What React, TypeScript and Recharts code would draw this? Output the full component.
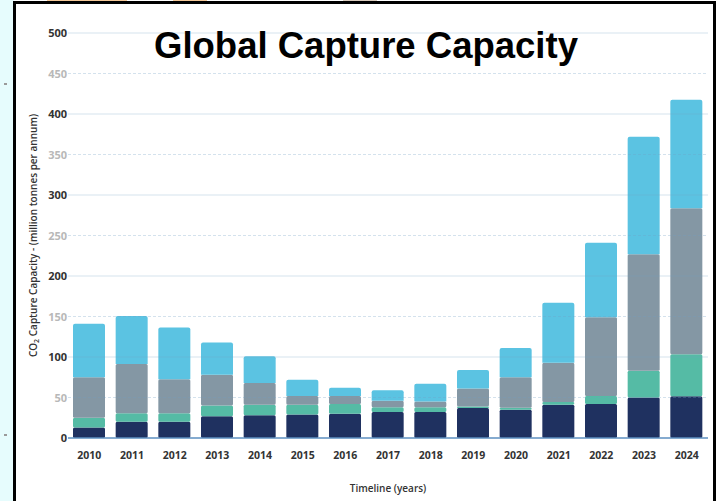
import React from 'react';
import { BarChart, Bar, XAxis, YAxis, ReferenceLine, Label } from 'recharts';

// ----------------------------------------------------------------------------
// Data (million tonnes per annum)
// ----------------------------------------------------------------------------

const YEARS = [
  '2010', '2011', '2012', '2013', '2014', '2015', '2016', '2017',
  '2018', '2019', '2020', '2021', '2022', '2023', '2024'
];

const OPERATIONAL = [13, 20, 20, 27, 28, 29, 30, 32, 32, 37, 35, 41, 42, 50, 51.5];
const IN_CONSTRUCTION = [12, 10.5, 10.5, 13, 13, 12, 12, 6, 6, 2, 2.5, 3.5, 10, 33, 52];
const ADVANCED_DEV = [50, 61, 42, 38, 27, 11, 10, 8, 7, 22, 37.5, 48.5, 97, 144, 180];
const EARLY_DEV = [66, 59, 64, 40, 33, 20, 10, 13, 22, 23, 36, 74, 92, 145, 134];

const Y_TICKS = [0, 50, 100, 150, 200, 250, 300, 350, 400, 450, 500];
const SOLID_LINES = [100, 200, 300, 400, 500];
const DASHED_LINES = [50, 150, 250, 350, 450];

const COLORS = {
  operational: '#1f3160',
  construction: '#55bba5',
  advanced: '#8497a4',
  early: '#5bc3e2',
  axis: '#5d8fc0',
  grid: '#6f9fc4'
};

const TICK_FONT = '"Open Sans", "Liberation Sans", sans-serif';

const chartData = YEARS.map((year, i) => ({
  year,
  operational: OPERATIONAL[i],
  construction: IN_CONSTRUCTION[i],
  advanced: ADVANCED_DEV[i],
  early: EARLY_DEV[i]
}));

// ----------------------------------------------------------------------------
// Custom ticks / labels
// ----------------------------------------------------------------------------

const YTick = ({ x, y, payload }: any) => {
  const major = payload.value % 100 === 0;
  return (
    <text
      x={x}
      y={y}
      dy={4}
      textAnchor="end"
      fontSize={11}
      fontWeight={700}
      fontFamily={TICK_FONT}
      fill={major ? '#333333' : '#b8b8b8'}
    >
      {payload.value}
    </text>
  );
};

const YAxisTitle = ({ viewBox }: any) => {
  const cx = (viewBox?.x ?? 18) + 15;
  const cy = (viewBox?.y ?? 33) + (viewBox?.height ?? 404) / 2;
  return (
    <text
      x={cx}
      y={cy}
      transform={`rotate(-90, ${cx}, ${cy})`}
      textAnchor="middle"
      dominantBaseline="central"
      fontSize={10}
      fontWeight={600}
      fontFamily={TICK_FONT}
      fill="#333333"
    >
      CO
      <tspan dy={3} fontSize={7}>2</tspan>
      <tspan dy={-3}> Capture Capacity - (million tonnes per annum)</tspan>
    </text>
  );
};

// ----------------------------------------------------------------------------
// Component
// ----------------------------------------------------------------------------

export default function App() {
  return (
    <div
      style={{
        position: 'absolute',
        left: 0,
        top: 0,
        width: 722,
        height: 501,
        background: '#ffffff',
        overflow: 'hidden'
      }}
    >
      {/* Slide background + frame */}
      <div style={{ position: 'absolute', left: 0, top: 0, width: 14, height: 501, background: '#e6fcfd' }} />
      <div style={{ position: 'absolute', left: 47, top: 0, width: 80, height: 2, background: '#f4c899' }} />
      <div style={{ position: 'absolute', left: 173, top: 0, width: 34, height: 2, background: '#f4c899' }} />
      <div style={{ position: 'absolute', left: 343, top: 0, width: 34, height: 2, background: '#d9cbbd' }} />
      <div style={{ position: 'absolute', left: 4, top: 83, width: 3, height: 2, background: '#9a9a9a' }} />
      <div style={{ position: 'absolute', left: 4, top: 434, width: 3, height: 2, background: '#9a9a9a' }} />
      <div
        style={{
          position: 'absolute',
          left: 13,
          top: 1,
          width: 703,
          height: 510,
          boxSizing: 'border-box',
          borderLeft: '3px solid #000',
          borderTop: '3px solid #000',
          borderRight: '3px solid #000',
          background: '#ffffff'
        }}
      />

      <div style={{ position: 'absolute', left: 0, top: 0 }}>
        <BarChart
          width={722}
          height={501}
          data={chartData}
          margin={{ top: 33, right: 14, bottom: 33, left: 18 }}
        >
          <XAxis
            dataKey="year"
            height={30}
            tickLine={false}
            tickSize={0}
            tickMargin={14}
            axisLine={{ stroke: COLORS.axis, strokeWidth: 1.5 }}
            tick={{ fontSize: 10.5, fontWeight: 700, fill: '#333333', fontFamily: TICK_FONT }}
            interval={0}
          >
            <Label
              value="Timeline (years)"
              position="bottom"
              offset={17}
              fontSize={10}
              fontWeight={600}
              fill="#333333"
              fontFamily={TICK_FONT}
            />
          </XAxis>
          <YAxis
            width={50}
            domain={[0, 500]}
            ticks={Y_TICKS}
            axisLine={false}
            tickLine={false}
            tickSize={0}
            tickMargin={1}
            tick={<YTick />}
            interval={0}
          >
            <Label content={<YAxisTitle />} />
          </YAxis>

          <Bar dataKey="operational" stackId="cap" fill={COLORS.operational} barSize={32} radius={1.5} isAnimationActive={false} />
          <Bar dataKey="construction" stackId="cap" fill={COLORS.construction} barSize={32} radius={1.5} isAnimationActive={false} />
          <Bar dataKey="advanced" stackId="cap" fill={COLORS.advanced} barSize={32} radius={1.5} isAnimationActive={false} />
          <Bar dataKey="early" stackId="cap" fill={COLORS.early} barSize={32} radius={[2, 2, 0, 0]} isAnimationActive={false} />

          {SOLID_LINES.map((v) => (
            <ReferenceLine key={`s${v}`} y={v} stroke={COLORS.grid} strokeOpacity={0.3} strokeWidth={1.2} />
          ))}
          {DASHED_LINES.map((v) => (
            <ReferenceLine key={`d${v}`} y={v} stroke={COLORS.grid} strokeOpacity={0.3} strokeDasharray="3 2" />
          ))}
        </BarChart>
      </div>

      {/* Slide title, drawn over the chart */}
      <svg
        width={722}
        height={501}
        style={{ position: 'absolute', left: 0, top: 0, pointerEvents: 'none' }}
      >
        <text
          x={366}
          y={57.5}
          textAnchor="middle"
          fontSize={36.5}
          fontWeight={700}
          fontFamily='"Liberation Sans", Arial, sans-serif'
          fill="#000000"
        >
          Global Capture Capacity
        </text>
      </svg>
    </div>
  );
}
